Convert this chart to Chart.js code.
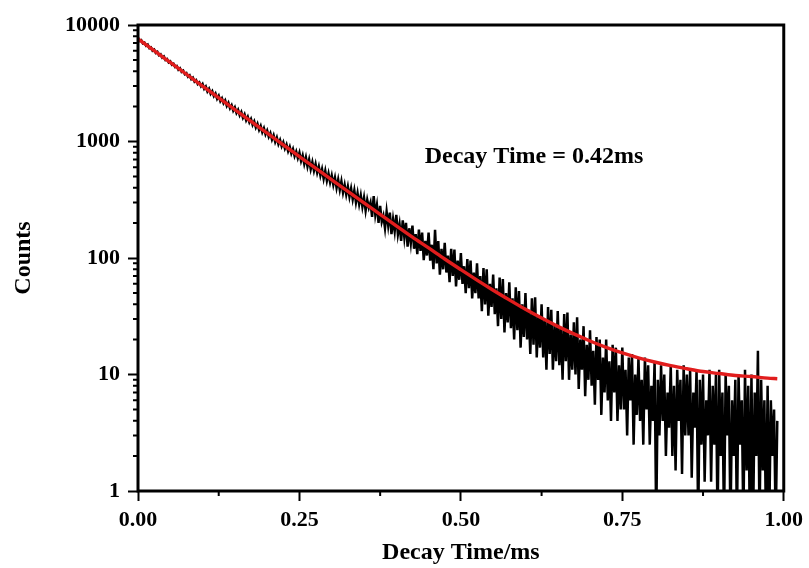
<!DOCTYPE html>
<html><head><meta charset="utf-8">
<script src="https://cdn.jsdelivr.net/npm/chart.js@4.4.0/dist/chart.umd.min.js"></script>
<style>html,body{margin:0;padding:0;background:#fff;overflow:hidden;}</style>
</head><body>
<canvas id="c" width="809" height="568"></canvas>
<script>
// ---- data ----
const times = [
0,0.0025,0.005,0.0075,0.01,0.0125,0.015,0.0175,0.02,0.0225,
0.025,0.0275,0.03,0.0325,0.035,0.0375,0.04,0.0425,0.045,0.0475,
0.05,0.0525,0.055,0.0575,0.06,0.0625,0.065,0.0675,0.07,0.0725,
0.075,0.0775,0.08,0.0825,0.085,0.0875,0.09,0.0925,0.095,0.0975,
0.1,0.1025,0.105,0.1075,0.11,0.1125,0.115,0.1175,0.12,0.1225,
0.125,0.1275,0.13,0.1325,0.135,0.1375,0.14,0.1425,0.145,0.1475,
0.15,0.1525,0.155,0.1575,0.16,0.1625,0.165,0.1675,0.17,0.1725,
0.175,0.1775,0.18,0.1825,0.185,0.1875,0.19,0.1925,0.195,0.1975,
0.2,0.2025,0.205,0.2075,0.21,0.2125,0.215,0.2175,0.22,0.2225,
0.225,0.2275,0.23,0.2325,0.235,0.2375,0.24,0.2425,0.245,0.2475,
0.25,0.2525,0.255,0.2575,0.26,0.2625,0.265,0.2675,0.27,0.2725,
0.275,0.2775,0.28,0.2825,0.285,0.2875,0.29,0.2925,0.295,0.2975,
0.3,0.3025,0.305,0.3075,0.31,0.3125,0.315,0.3175,0.32,0.3225,
0.325,0.3275,0.33,0.3325,0.335,0.3375,0.34,0.3425,0.345,0.3475,
0.35,0.3525,0.355,0.3575,0.36,0.3625,0.365,0.3675,0.37,0.3725,
0.375,0.3775,0.38,0.3825,0.385,0.3875,0.39,0.3925,0.395,0.3975,
0.4,0.4025,0.405,0.4075,0.41,0.4125,0.415,0.4175,0.42,0.4225,
0.425,0.4275,0.43,0.4325,0.435,0.4375,0.44,0.4425,0.445,0.4475,
0.45,0.4525,0.455,0.4575,0.46,0.4625,0.465,0.4675,0.47,0.4725,
0.475,0.4775,0.48,0.4825,0.485,0.4875,0.49,0.4925,0.495,0.4975,
0.5,0.5025,0.505,0.5075,0.51,0.5125,0.515,0.5175,0.52,0.5225,
0.525,0.5275,0.53,0.5325,0.535,0.5375,0.54,0.5425,0.545,0.5475,
0.55,0.5525,0.555,0.5575,0.56,0.5625,0.565,0.5675,0.57,0.5725,
0.575,0.5775,0.58,0.5825,0.585,0.5875,0.59,0.5925,0.595,0.5975,
0.6,0.6025,0.605,0.6075,0.61,0.6125,0.615,0.6175,0.62,0.6225,
0.625,0.6275,0.63,0.6325,0.635,0.6375,0.64,0.6425,0.645,0.6475,
0.65,0.6525,0.655,0.6575,0.66,0.6625,0.665,0.6675,0.67,0.6725,
0.675,0.6775,0.68,0.6825,0.685,0.6875,0.69,0.6925,0.695,0.6975,
0.7,0.7025,0.705,0.7075,0.71,0.7125,0.715,0.7175,0.72,0.7225,
0.725,0.7275,0.73,0.7325,0.735,0.7375,0.74,0.7425,0.745,0.7475,
0.75,0.7525,0.755,0.7575,0.76,0.7625,0.765,0.7675,0.77,0.7725,
0.775,0.7775,0.78,0.7825,0.785,0.7875,0.79,0.7925,0.795,0.7975,
0.8,0.8025,0.805,0.8075,0.81,0.8125,0.815,0.8175,0.82,0.8225,
0.825,0.8275,0.83,0.8325,0.835,0.8375,0.84,0.8425,0.845,0.8475,
0.85,0.8525,0.855,0.8575,0.86,0.8625,0.865,0.8675,0.87,0.8725,
0.875,0.8775,0.88,0.8825,0.885,0.8875,0.89,0.8925,0.895,0.8975,
0.9,0.9025,0.905,0.9075,0.91,0.9125,0.915,0.9175,0.92,0.9225,
0.925,0.9275,0.93,0.9325,0.935,0.9375,0.94,0.9425,0.945,0.9475,
0.95,0.9525,0.955,0.9575,0.96,0.9625,0.965,0.9675,0.97,0.9725,
0.975,0.9775,0.98,0.9825,0.985,0.9875,0.99];

const counts = [
7750,7300,7420,6950,7050,6650,6780,6330,6420,6020,
6150,5760,5880,5500,5610,5250,5370,5010,5100,4770,
4880,4560,4650,4360,4440,4130,4250,3960,4050,3780,
3860,3600,3700,3430,3530,3270,3370,3120,3220,2980,
3120,2830,2960,2690,2840,2570,2700,2450,2580,2330,
2470,2220,2350,2130,2250,2020,2150,1930,2050,1840,
1960,1760,1870,1680,1790,1600,1710,1520,1630,1460,
1560,1390,1490,1320,1420,1260,1360,1200,1300,1150,
1240,1100,1180,1040,1130,990,1080,950,1030,910,
985,870,940,825,900,790,860,750,820,720,
800,680,760,640,730,610,700,580,665,560,
640,540,610,510,580,480,560,460,530,445,
510,425,490,400,470,385,455,365,425,350,
410,335,395,320,380,300,360,290,345,275,
330,255,315,270,300,225,340,235,285,200,
280,205,230,180,250,190,245,160,215,170,
235,160,195,140,210,150,200,125,180,135,
190,120,160,108,175,115,165,96,140,105,
165,95,130,80,175,90,140,72,120,80,
135,75,105,62,120,70,118,57,95,65,
110,60,85,50,98,55,95,45,75,50,
90,45,70,35,82,40,80,32,60,38,
72,33,55,26,68,30,66,23,50,28,
62,25,45,20,56,24,52,17,40,21,
50,20,36,15,45,18,46,14,32,17,
40,14,30,11,38,15,36,11,26,13,
35,12,25,9,33,13,34,9,22,11,
28,10,31,7.5,20,11,26,6.5,18,9,
24,8,16,5.5,21,9,20,4.5,14,7,
20,6,13,4,18,7,17,4,12,5,
17,5,11,3,14,6,15,2.5,10,4.5,
14,4,9,2.5,14,5,12,2.5,8,4,
13,0.5,9,3,12,4,10,2,7,3.5,
12,2,8,1.5,11,4,9,1.4,12,3,
10,3,11,1.3,7,3.5,11,0.5,9,2.5,
10,1.2,6,3,11,1.2,8,2.5,10,0.5,
11,2,7,0.5,10,3,8,0.5,6,2,
9,0.5,10,2.5,6,0.5,11,1.5,8,0.5,
10,0.5,7,2,16,0.5,9,1.5,6,0.5,
8,0.5,6,2,5,0.5,4];

const fitTimes = [0,0.025,0.05,0.075,0.1,0.125,0.15,0.175,0.2,0.225,0.25,0.275,0.3,0.325,0.35,0.375,0.4,0.425,0.45,0.475,
0.5,0.525,0.55,0.575,0.6,0.625,0.65,0.675,0.7,0.725,0.75,0.775,0.8,0.825,0.85,0.875,0.9,0.925,0.95,0.975,0.99];
const fitCounts = [7608,6025,4771,3778,2993,2371,1879,1489,1180,936,743,590,469,373,297,237,189,151,122,98,
79.4,64.6,52.9,43.7,36.3,30.5,25.9,22.3,19.4,17.1,15.3,13.9,12.8,11.9,11.2,10.6,10.2,9.8,9.6,9.3,9.2];

const xTicks = [0, 0.25, 0.5, 0.75, 1.0];
const xMinorTicks = [0.125, 0.375, 0.625, 0.875];
const yTicks = [1, 10, 100, 1000, 10000];
const yMinorTicks = [2,3,4,5,6,7,8,9,20,30,40,50,60,70,80,90,200,300,400,500,600,700,800,900,2000,3000,4000,5000,6000,7000,8000,9000];
const xTitle = 'Decay Time/ms';
const yTitle = 'Counts';
const annotationText = 'Decay Time = 0.42ms';
const annotationAt = {x: 0.444, y: 650};

// ---- drawing ----
const FONT = '"Liberation Serif", "Times New Roman", serif';

const framePlugin = {
  id: 'frame',
  afterDatasetsDraw(chart) {
    const {ctx, chartArea: a, scales: {x, y}} = chart;
    ctx.save();
    ctx.strokeStyle = '#000';
    ctx.lineWidth = 2;
    ctx.beginPath();
    xMinorTicks.forEach(v => { const px = x.getPixelForValue(v); ctx.moveTo(px, a.bottom); ctx.lineTo(px, a.bottom + 5); });
    yMinorTicks.forEach(v => { const py = y.getPixelForValue(v); ctx.moveTo(a.left, py); ctx.lineTo(a.left - 5, py); });
    ctx.stroke();
    ctx.lineWidth = 3;
    ctx.strokeRect(a.left, a.top, a.right - a.left, a.bottom - a.top);
    ctx.font = 'bold 24px ' + FONT;
    ctx.fillStyle = '#000';
    ctx.textBaseline = 'alphabetic';
    ctx.textAlign = 'left';
    ctx.fillText(annotationText, x.getPixelForValue(annotationAt.x), y.getPixelForValue(annotationAt.y));
    ctx.restore();
  }
};

new Chart(document.getElementById('c'), {
  type: 'scatter',
  data: {
    datasets: [
      { label: 'Fit', data: fitTimes.map((t, i) => ({x: t, y: fitCounts[i]})), showLine: true,
        borderColor: '#e11d1d', borderWidth: 3.4, pointRadius: 0, cubicInterpolationMode: 'monotone', order: 0 },
      { label: 'Data', data: times.map((t, i) => ({x: t, y: counts[i]})), showLine: true,
        borderColor: '#000', borderWidth: 2.5, pointRadius: 0, order: 1 }
    ]
  },
  options: {
    responsive: false,
    devicePixelRatio: 1,
    animation: false,
    layout: { padding: { top: 25, right: 24, left: 0, bottom: 0 } },
    plugins: { legend: { display: false }, tooltip: { enabled: false } },
    scales: {
      x: {
        type: 'linear', min: 0, max: 1,
        afterBuildTicks: s => { s.ticks = xTicks.map(v => ({value: v})); },
        afterFit: s => { s.height = 77; },
        ticks: { callback: v => Number(v).toFixed(2), color: '#000', padding: 6, maxRotation: 0,
                 font: { family: FONT, size: 22, weight: 'bold' } },
        grid: { display: true, drawOnChartArea: false, drawTicks: true, tickLength: 10, tickWidth: 2, tickColor: '#000' },
        border: { display: false },
        title: { display: true, text: xTitle, color: '#000', padding: { top: 0, bottom: 1 },
                 font: { family: FONT, size: 24, weight: 'bold' } }
      },
      y: {
        type: 'logarithmic', min: 1, max: 10000,
        afterBuildTicks: s => { s.ticks = yTicks.map(v => ({value: v})); },
        afterFit: s => { s.width = 138; },
        ticks: { callback: v => String(v), color: '#000', padding: 8,
                 font: { family: FONT, size: 22, weight: 'bold' } },
        grid: { display: true, drawOnChartArea: false, drawTicks: true, tickLength: 10, tickWidth: 2, tickColor: '#000' },
        border: { display: false },
        title: { display: true, text: yTitle, color: '#000', padding: { top: 9, bottom: 0 },
                 font: { family: FONT, size: 24, weight: 'bold' } }
      }
    }
  },
  plugins: [framePlugin]
});
</script>
</body></html>
